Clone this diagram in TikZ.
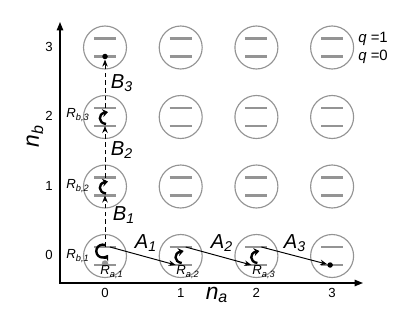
\documentclass[tikz,border=0pt]{standalone}
\usepackage{fontspec}
\setmainfont{Liberation Sans}
\usetikzlibrary{arrows.meta}

\begin{document}
\begin{tikzpicture}[x=.02cm,y=-.02cm,
  axis/.style={draw=black,line width=.8pt,{Triangle[length=1.7mm,width=1.3mm]}-{Triangle[length=1.7mm,width=1.3mm]}},
  site/.style={circle,draw=black!42,line width=.65pt,minimum size=.86cm,inner sep=0pt},
  level/.style={draw=black!42,line width=1.2pt},
  hop/.style={draw=black,line width=.55pt,-{Stealth[length=1.4mm,width=1.1mm]}},
  hopb/.style={hop,dashed,dash pattern=on 2.6pt off 1.8pt},
  relax/.style={draw=black,line width=1.35pt,-{Stealth[length=1.1mm,width=1.6mm]}},
  dot/.style={circle,fill=black,inner sep=0pt,minimum size=.11cm},
  big/.style={font=\fontsize{11.5}{13}\selectfont\itshape},
  small/.style={font=\fontsize{7.5}{9}\selectfont\itshape},
  tick/.style={font=\fontsize{7.5}{9}\selectfont}
]
 \path[use as bounding box] (0,0) rectangle (415,321);

 % axes and tick labels
 \coordinate (origin) at (60,283);
 \coordinate (xend) at (363,283);
 \coordinate (yend) at (60,22);
 \draw[axis] (xend) -- (origin) -- (yend);
 \foreach \i in {0,...,3} {
   \node[tick] (tx\i) at (105+75.7*\i,293) {\i};
   \node[tick] (ty\i) at (49,255-69.5*\i) {\i};
 }
 \node[font=\fontsize{13}{15}\selectfont\itshape] (na) at (217,295) {n\textsubscript{a}};
 \node[font=\fontsize{13}{15}\selectfont\itshape,rotate=90] (nb) at (35,136) {n\textsubscript{b}};

 % grid of sites, each with its two levels
 \foreach \i in {0,...,3} \foreach \j in {0,...,3} {
   \node[site] (s\i\j) at (105+75.7*\i,256-69.5*\j) {};
   \coordinate (u\i\j) at ([yshift=.18cm]s\i\j.center);
   \coordinate (l\i\j) at ([yshift=-.18cm]s\i\j.center);
   \draw[level] ([xshift=-.22cm]u\i\j) -- ([xshift=.22cm]u\i\j);
   \draw[level] ([xshift=-.22cm]l\i\j) -- ([xshift=.22cm]l\i\j);
 }
 \node[anchor=west,font=\fontsize{8.5}{10}\selectfont] (q1) at ([xshift=.4cm]u33) {\textit{q} =1};
 \node[anchor=west,font=\fontsize{8.5}{10}\selectfont] (q0) at ([xshift=.4cm]l33) {\textit{q} =0};

 % end points
 \node[dot] (enda) at ([xshift=-.04cm]l30) {};
 \node[dot] (endb) at (l03) {};
 \node[circle,fill=black!42,inner sep=0pt,minimum size=.13cm] (start) at ([yshift=.03cm]l00) {};

 % hops along n_a
 \draw[hop] ([xshift=.1cm]u00) -- ([xshift=-.1cm]l10);
 \draw[hop] ([xshift=.1cm]u10) -- ([xshift=-.1cm]l20);
 \draw[hop] ([xshift=.1cm]u20) -- (enda);
 \foreach \k/\xx in {1/146,2/222,3/295}
   \node[big] (A\k) at (\xx,243) {A\textsubscript{\k}};

 % hops along n_b
 \draw[hopb] (u00) -- (l01);
 \draw[hopb] (u01) -- (l02);
 \draw[hopb] (u02) -- (endb);
 \foreach \k/\yy/\xx in {1/215/124,2/150/122,3/83/122}
   \node[big] (B\k) at (\xx,\yy) {B\textsubscript{\k}};

 % relaxation inside the sites
 \begin{scope}[shift={(s00.center)}]
  \draw[relax] (0,-11) arc[start angle=-70,end angle=-325,radius=6.5];
 \end{scope}
 \foreach \s in {01,02,10,20} {
  \begin{scope}[shift={(s\s.center)}]
   \draw[relax] (1,7) .. controls (-7,6) and (-7,-3) .. (3,-5);
  \end{scope}
 }

 \foreach \k/\yy in {1/256,2/186,3/115}
   \node[small] (Rb\k) at (78,\yy) {R\textsubscript{b,\k}};
 \foreach \k/\xx in {1/112,2/188,3/264}
   \node[small] (Ra\k) at (\xx,272) {R\textsubscript{a,\k}};
\end{tikzpicture}
\end{document}
